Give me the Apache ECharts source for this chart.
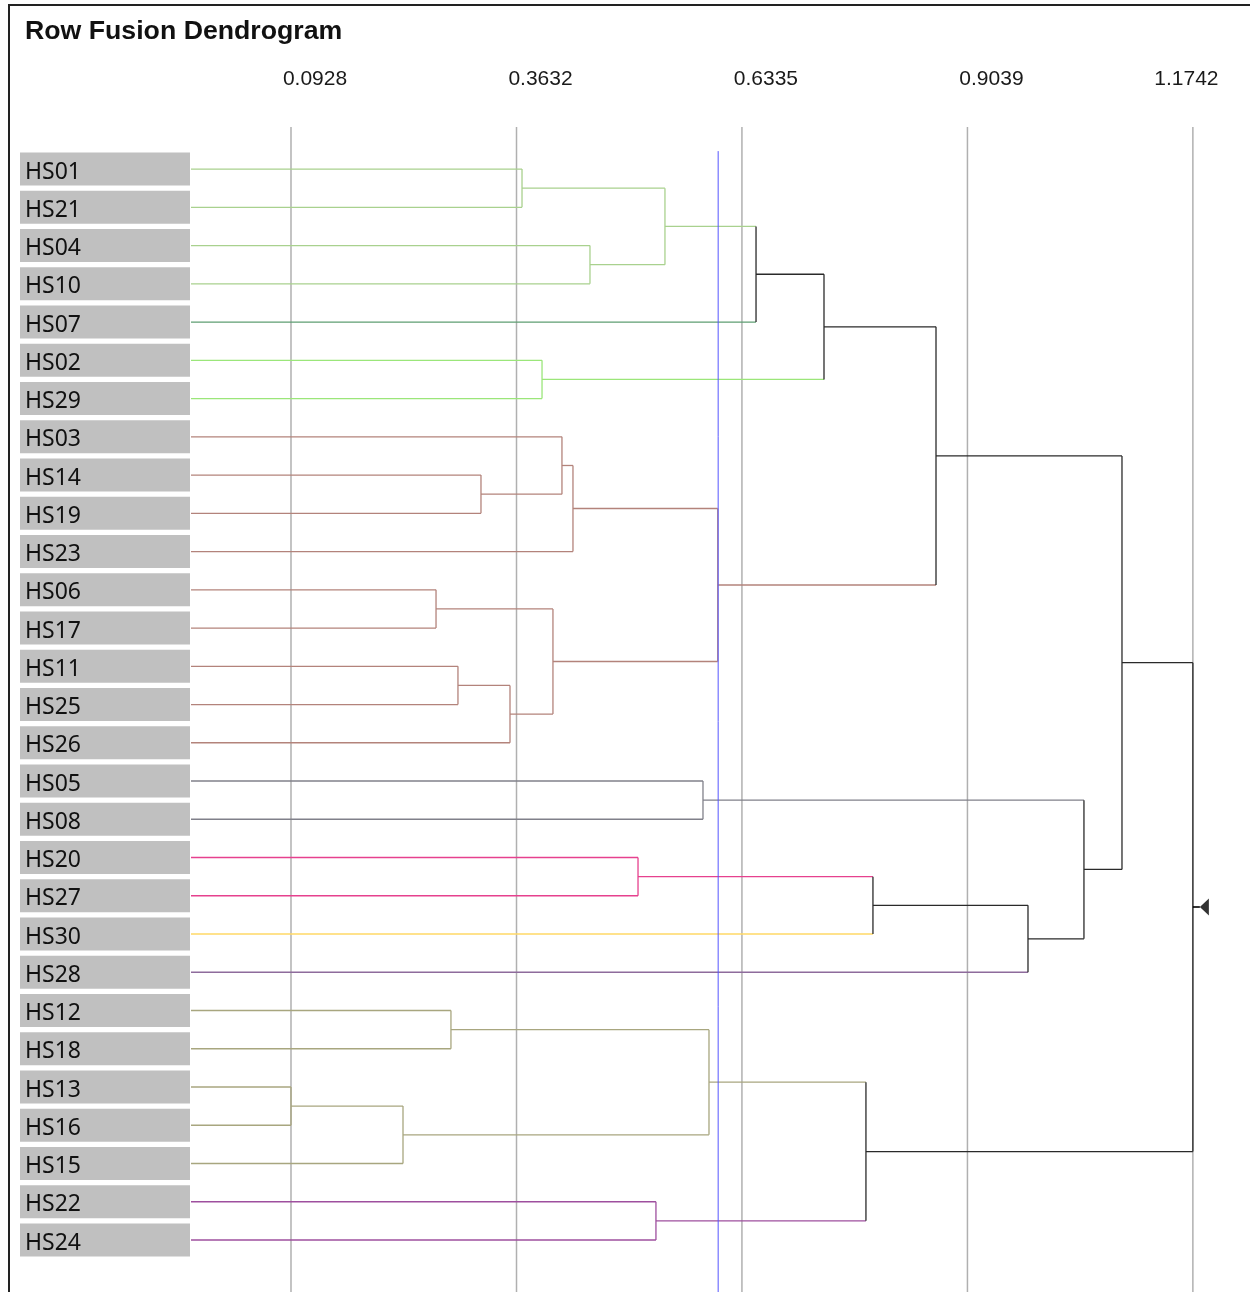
<!DOCTYPE html>
<html>
<head>
<meta charset="utf-8">
<title>Row Fusion Dendrogram</title>
<script src="https://cdn.jsdelivr.net/npm/echarts@6/dist/echarts.min.js"></script>
<style>
  html, body { margin: 0; padding: 0; background: #fff; }
  #chart { width: 1250px; height: 1292px; }
</style>
</head>
<body>
<div id="chart"></div>
<script>
// leaves, top to bottom
const leafNames = ['HS01', 'HS21', 'HS04', 'HS10', 'HS07', 'HS02', 'HS29', 'HS03', 'HS14', 'HS19',
  'HS23', 'HS06', 'HS17', 'HS11', 'HS25', 'HS26', 'HS05', 'HS08', 'HS20', 'HS27',
  'HS30', 'HS28', 'HS12', 'HS18', 'HS13', 'HS16', 'HS15', 'HS22', 'HS24']

// merges: node ids 0..28 are leaves, merge k makes node 29 + k
const mergeLeft = [0, 2, 29, 31, 5, 32, 8, 7, 36, 11, 13, 39, 38, 37, 34, 16, 18, 45, 46, 44, 43, 22, 24, 51, 50, 27, 53, 49]
const mergeRight = [1, 3, 30, 4, 6, 33, 9, 35, 10, 12, 14, 15, 40, 41, 42, 17, 19, 20, 21, 47, 48, 23, 25, 26, 52, 28, 54, 55]
const mergeHeight = [0.3698, 0.4513, 0.5412, 0.6504, 0.3938, 0.7319, 0.3206, 0.4177, 0.4309, 0.2667,
  0.2930, 0.3554, 0.4069, 0.6045, 0.8662, 0.5868, 0.5089, 0.7906, 0.9765, 1.0436,
  1.0892, 0.2846, 0.0928, 0.2271, 0.5940, 0.5304, 0.7822, 1.1742]

const tickValues = [0.0928, 0.3632, 0.6335, 0.9039, 1.1742]
const cutHeight = 0.605
const leafBase = -0.0271
const xMax = 1.2427

// colours per leaf (cluster below the cut)
const cGreen = '#a9d18e', cTeal = '#5e9e72', cLime = '#9be67a', cBrown = '#b3837b', cGrey = '#80808a'
const cPink = '#e6418e', cYellow = '#ffd966', cPlum = '#8e6b9c', cOlive = '#a8a67f', cPurple = '#9e4f9e'
const leafColors = [cGreen, cGreen, cGreen, cGreen, cTeal, cLime, cLime,
  cBrown, cBrown, cBrown, cBrown, cBrown, cBrown, cBrown, cBrown, cBrown,
  cGrey, cGrey, cPink, cPink, cYellow, cPlum,
  cOlive, cOlive, cOlive, cOlive, cOlive, cPurple, cPurple]
const linkDark = '#2a2a2a'

const nodeY = leafNames.map((_, i) => i)
const nodeH = leafNames.map(() => leafBase)
const nodeColor = leafColors.slice()
const segs = []
const segColors = []

function addSeg(x1, y1, x2, y2, color) {
  segs.push([x1, y1, x2, y2])
  segColors.push(color)
}

mergeLeft.forEach((l, k) => {
  const r = mergeRight[k]
  const h = mergeHeight[k]
  const c = (nodeColor[l] === nodeColor[r] && h <= cutHeight) ? nodeColor[l] : linkDark
  addSeg(nodeH[l], nodeY[l], h, nodeY[l], nodeColor[l])
  addSeg(nodeH[r], nodeY[r], h, nodeY[r], nodeColor[r])
  addSeg(h, nodeY[l], h, nodeY[r], c)
  nodeY.push((nodeY[l] + nodeY[r]) / 2)
  nodeH.push(h)
  nodeColor.push(c)
})

const root = nodeY.length - 1
const yMin = -1.1, yMax = 29.36, cutTop = -0.47

function segRenderer(colors, width) {
  return function (params, api) {
    const p1 = api.coord([api.value(0), api.value(1)])
    const p2 = api.coord([api.value(2), api.value(3)])
    return {
      type: 'line',
      shape: { x1: p1[0], y1: p1[1], x2: p2[0], y2: p2[1] },
      style: { stroke: typeof colors === 'string' ? colors : colors[params.dataIndex], lineWidth: width }
    }
  }
}

const chart = echarts.init(document.getElementById('chart'))

const tickFont = { fontFamily: 'Liberation Sans', fontSize: 21, color: '#1a1a1a' }

chart.setOption({
  animation: false,
  title: {
    text: 'Row Fusion Dendrogram',
    left: 25,
    top: 18,
    padding: 0,
    textStyle: { fontFamily: 'Liberation Sans', fontWeight: 'bold', fontSize: 26.7, color: '#111' }
  },
  graphic: [{
    type: 'polyline',
    shape: { points: [[1250, 5], [9, 5], [9, 1292]] },
    style: { stroke: '#222', lineWidth: 2, fill: null },
    silent: true
  }],
  grid: { left: 191, right: 0, top: 127, bottom: 0 },
  xAxis: {
    type: 'value',
    position: 'top',
    min: leafBase,
    max: xMax,
    axisLine: { show: false },
    axisTick: { show: false },
    splitLine: { show: false },
    axisLabel: {
      customValues: tickValues,
      margin: 37,
      ...tickFont,
      formatter: (v) => {
        const s = v.toFixed(4)
        return v === tickValues[tickValues.length - 1] ? '{e|' + s + '}' : '{a|' + s + '}'
      },
      rich: {
        a: { ...tickFont, padding: [0, 0, 0, 48] },
        e: { ...tickFont, padding: [0, 13, 0, 0] }
      }
    }
  },
  yAxis: {
    type: 'value',
    inverse: true,
    min: yMin,
    max: yMax,
    axisLine: { show: false },
    axisTick: { show: false },
    splitLine: { show: false },
    axisLabel: {
      customValues: leafNames.map((_, i) => i),
      margin: 1,
      formatter: (v) => '{n|' + leafNames[Math.round(v)] + '}',
      rich: {
        n: {
          width: 165,
          height: 27,
          lineHeight: 27,
          padding: [6, 0, 0, 5],
          align: 'left',
          backgroundColor: '#c0c0c0',
          fontFamily: 'Noto Sans',
          fontSize: 23,
          color: '#111'
        }
      }
    }
  },
  series: [
    {
      // vertical guide lines at the tick values
      type: 'custom',
      silent: true,
      z: 1,
      encode: { x: [0, 2], y: [1, 3] },
      data: tickValues.map((v) => [v, yMin, v, yMax]),
      renderItem: segRenderer('#b0b0b0', 1.5)
    },
    {
      type: 'custom',
      silent: true,
      z: 3,
      encode: { x: [0, 2], y: [1, 3] },
      data: segs,
      renderItem: segRenderer(segColors, 1.3)
    },
    {
      // cut line
      type: 'custom',
      silent: true,
      z: 4,
      encode: { x: [0, 2], y: [1, 3] },
      data: [[cutHeight, cutTop, cutHeight, yMax]],
      renderItem: segRenderer('#5656ff', 1)
    },
    {
      type: 'scatter',
      silent: true,
      z: 5,
      data: [[nodeH[root], nodeY[root]]],
      symbol: 'path://M0 7.5L7 7.5L7 9.5L0 9.5Z M7 8.5L16 0L16 17Z',
      symbolSize: [16, 17],
      symbolOffset: [8, 0],
      itemStyle: { color: '#000' }
    }
  ]
})
</script>
</body>
</html>
